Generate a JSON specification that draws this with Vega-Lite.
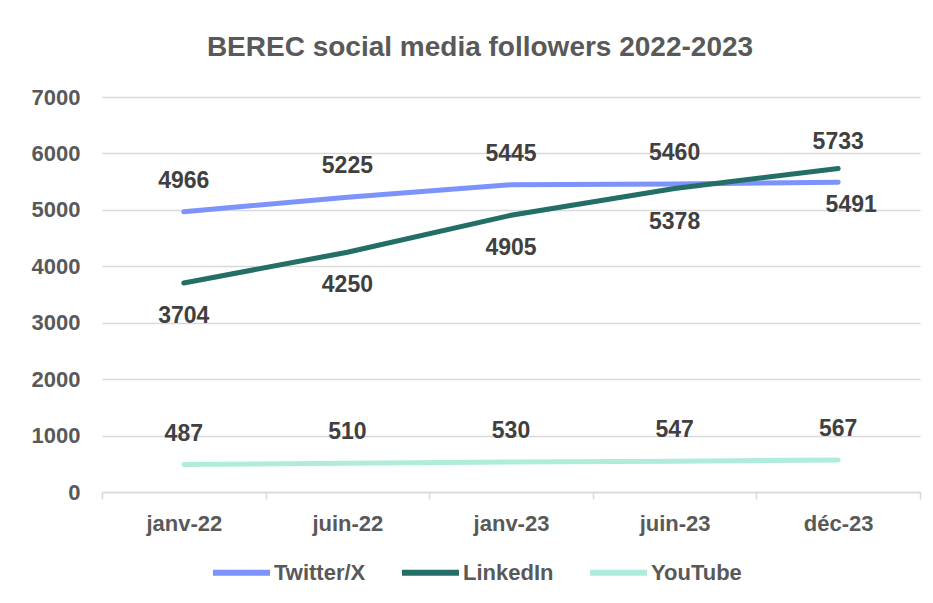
{
  "$schema": "https://vega.github.io/schema/vega-lite/v6.json",
  "width": 818,
  "height": 395,
  "autosize": {"type": "none"},
  "padding": {"left": 102, "top": 97, "right": 13, "bottom": 111},
  "background": "white",
  "title": {
    "text": "BEREC social media followers 2022-2023",
    "font": "Liberation Sans",
    "fontSize": 28,
    "fontWeight": "bold",
    "color": "#595959",
    "anchor": "middle",
    "offset": 24,
    "dx": -31
  },
  "config": {
    "view": {"stroke": null},
    "font": "Liberation Sans"
  },
  "data": {
    "values": [
      {"date": "janv-22", "series": "Twitter/X", "value": 4966},
      {"date": "juin-22", "series": "Twitter/X", "value": 5225},
      {"date": "janv-23", "series": "Twitter/X", "value": 5445},
      {"date": "juin-23", "series": "Twitter/X", "value": 5460},
      {"date": "déc-23", "series": "Twitter/X", "value": 5491},
      {"date": "janv-22", "series": "LinkedIn", "value": 3704},
      {"date": "juin-22", "series": "LinkedIn", "value": 4250},
      {"date": "janv-23", "series": "LinkedIn", "value": 4905},
      {"date": "juin-23", "series": "LinkedIn", "value": 5378},
      {"date": "déc-23", "series": "LinkedIn", "value": 5733},
      {"date": "janv-22", "series": "YouTube", "value": 487},
      {"date": "juin-22", "series": "YouTube", "value": 510},
      {"date": "janv-23", "series": "YouTube", "value": 530},
      {"date": "juin-23", "series": "YouTube", "value": 547},
      {"date": "déc-23", "series": "YouTube", "value": 567}
    ]
  },
  "encoding": {
    "x": {
      "field": "date",
      "type": "ordinal",
      "sort": ["janv-22", "juin-22", "janv-23", "juin-23", "déc-23"],
      "scale": {"type": "band", "paddingInner": 0, "paddingOuter": 0},
      "axis": {
        "title": null,
        "labelAngle": 0,
        "labelFont": "Liberation Sans",
        "labelFontSize": 22,
        "labelFontWeight": "bold",
        "labelColor": "#595959",
        "labelPadding": 14,
        "domainColor": "#d9d9d9",
        "domainWidth": 1.5,
        "tickColor": "#d9d9d9",
        "tickWidth": 1.5,
        "tickSize": 7,
        "tickBand": "extent",
        "grid": false
      }
    },
    "y": {
      "field": "value",
      "type": "quantitative",
      "scale": {"domain": [0, 7000], "nice": false},
      "axis": {
        "title": null,
        "values": [0, 1000, 2000, 3000, 4000, 5000, 6000, 7000],
        "format": "d",
        "labelFont": "Liberation Sans",
        "labelFontSize": 22,
        "labelFontWeight": "bold",
        "labelColor": "#595959",
        "labelPadding": 22,
        "domain": false,
        "ticks": false,
        "gridColor": "#d9d9d9",
        "gridWidth": 1.5
      }
    }
  },
  "layer": [
    {
      "mark": {"type": "line", "strokeWidth": 5, "strokeCap": "round"},
      "encoding": {
        "color": {
          "field": "series",
          "type": "nominal",
          "sort": ["Twitter/X", "LinkedIn", "YouTube"],
          "scale": {
            "domain": ["Twitter/X", "LinkedIn", "YouTube"],
            "range": ["#7b93fa", "#236e66", "#b0ecdc"]
          },
          "legend": {
            "title": null,
            "orient": "none",
            "legendX": 108,
            "legendY": 444,
            "direction": "horizontal",
            "symbolType": "stroke",
            "symbolSize": 3249,
            "symbolStrokeWidth": 6,
            "labelFont": "Liberation Sans",
            "labelFontSize": 22,
            "labelFontWeight": "bold",
            "labelColor": "#595959",
            "labelOffset": 1,
            "columnPadding": 24
          }
        }
      }
    },
    {
      "transform": [
        {"filter": "(datum.series == 'Twitter/X' && datum.date != 'déc-23') || datum.series == 'YouTube'"}
      ],
      "mark": {"type": "text", "dy": -31, "fontSize": 23, "fontWeight": "bold", "color": "#404040", "font": "Liberation Sans"},
      "encoding": {"text": {"field": "value", "type": "quantitative", "format": "d"}}
    },
    {
      "transform": [
        {"filter": "datum.series == 'LinkedIn' && datum.date != 'déc-23'"}
      ],
      "mark": {"type": "text", "dy": 33, "fontSize": 23, "fontWeight": "bold", "color": "#404040", "font": "Liberation Sans"},
      "encoding": {"text": {"field": "value", "type": "quantitative", "format": "d"}}
    },
    {
      "transform": [
        {"filter": "datum.series == 'LinkedIn' && datum.date == 'déc-23'"}
      ],
      "mark": {"type": "text", "dy": -26, "fontSize": 23, "fontWeight": "bold", "color": "#404040", "font": "Liberation Sans"},
      "encoding": {"text": {"field": "value", "type": "quantitative", "format": "d"}}
    },
    {
      "transform": [
        {"filter": "datum.series == 'Twitter/X' && datum.date == 'déc-23'"}
      ],
      "mark": {"type": "text", "dy": 23, "dx": 13, "fontSize": 23, "fontWeight": "bold", "color": "#404040", "font": "Liberation Sans"},
      "encoding": {"text": {"field": "value", "type": "quantitative", "format": "d"}}
    }
  ]
}
